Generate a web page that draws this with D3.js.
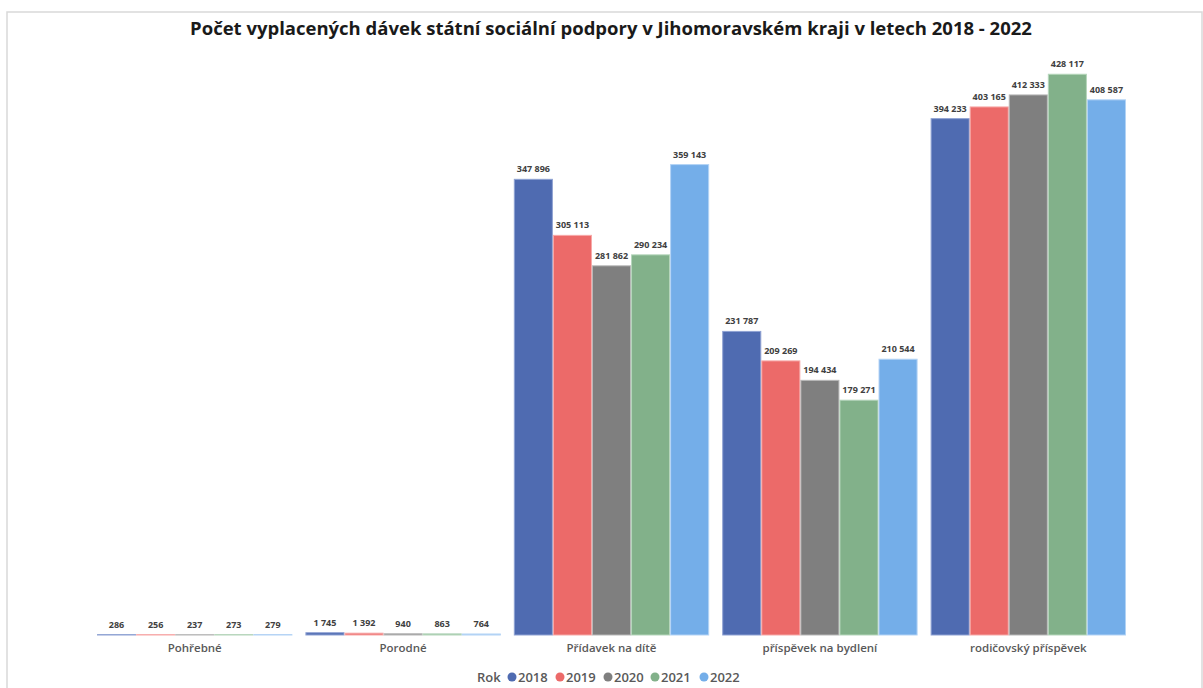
<!DOCTYPE html>
<html><head><meta charset="utf-8">
<script src="https://cdn.jsdelivr.net/npm/d3@7"></script>
<style>
html,body{margin:0;padding:0;background:#fff;}
svg{display:block;font-family:"Open Sans","Liberation Sans",sans-serif;}
</style></head>
<body><svg id="c" width="1203" height="688"></svg>
<script>
const categories = ["Pohřebné","Porodné","Přídavek na dítě","příspěvek na bydlení","rodičovský příspěvek"];
const years = ["2018","2019","2020","2021","2022"];
const v2018 = [286, 1745, 347896, 231787, 394233];
const v2019 = [256, 1392, 305113, 209269, 403165];
const v2020 = [237, 940, 281862, 194434, 412333];
const v2021 = [273, 863, 290234, 179271, 428117];
const v2022 = [279, 764, 359143, 210544, 408587];
const seriesValues = [v2018, v2019, v2020, v2021, v2022];
const colors = ["#4f6bb1","#ec6a69","#7f7f7f","#82b18a","#74aee9"];
const strokes = ["#8fa2d3","#f7a9a8","#b8b8b8","#b5d6bb","#b3d3f5"];
const title = "Počet vyplacených dávek státní sociální podpory v Jihomoravském kraji v letech 2018 - 2022";

const svg = d3.select("#c");
svg.append("rect").attr("x",7).attr("y",12).attr("width",1195).attr("height",700)
  .attr("fill","#fff").attr("stroke","#d9d9d9").attr("stroke-width",1.5);

svg.append("text").attr("x",611).attr("y",35).attr("text-anchor","middle")
  .attr("font-size",18.5).attr("font-weight","bold").attr("fill","#1a1a1a").text(title);

const x0 = d3.scaleBand().domain(categories).range([90.5,1132.5]).paddingInner(0.0625).paddingOuter(0.03125);
const x1 = d3.scaleBand().domain(years).range([0,x0.bandwidth()]).padding(0);
const y = d3.scaleLinear().domain([0,450000]).range([635,635-0.0013098*450000]);

const fmt = v => d3.format(",")(v).replace(/,/g," ");

const g = svg.append("g");
categories.forEach((cat,ci)=>{
  const cg = g.append("g").attr("transform",`translate(${x0(cat)},0)`);
  years.forEach((yr,si)=>{
    const val = seriesValues[si][ci];
    cg.append("rect").attr("x",x1(yr)+0.5).attr("width",x1.bandwidth()-1)
      .attr("y",y(val)).attr("height",Math.max(0,y(0)-y(val)))
      .attr("fill",colors[si]).attr("stroke",strokes[si]).attr("stroke-width",1);
    cg.append("text").attr("x",x1(yr)+x1.bandwidth()/2).attr("y",y(val)-7)
      .attr("text-anchor","middle").attr("font-size",9).attr("font-weight","bold")
      .attr("fill","#404040").text(fmt(val));
  });
});

const ax = svg.append("g").attr("transform","translate(0,635)")
  .call(d3.axisBottom(x0).tickSize(0).tickPadding(9));
ax.select(".domain").remove();
ax.selectAll("text").attr("font-size",11.5).attr("fill","#595959").attr("font-weight",600)
  .attr("font-family",'"Open Sans","Liberation Sans",sans-serif');

const lg = svg.append("g").attr("transform","translate(477,677)");
lg.append("text").attr("x",0).attr("y",4.5).attr("font-size",13).attr("font-weight",600).attr("fill","#595959").text("Rok");
const lx = [35,83,131,178,227];
years.forEach((yr,i)=>{
  lg.append("circle").attr("cx",lx[i]).attr("cy",0).attr("r",4.5).attr("fill",colors[i]);
  lg.append("text").attr("x",lx[i]+6).attr("y",4.5).attr("font-size",13).attr("font-weight",600).attr("fill","#595959").text(yr);
});
</script></body></html>
